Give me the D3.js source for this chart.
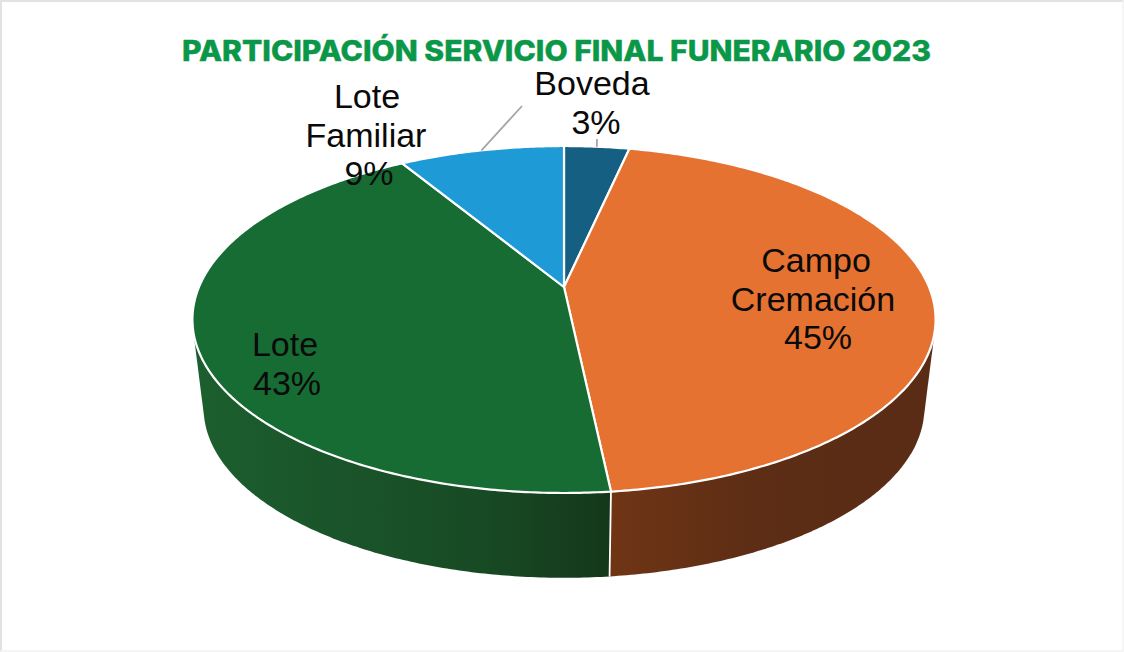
<!DOCTYPE html>
<html><head><meta charset="utf-8">
<script src="https://cdnjs.cloudflare.com/ajax/libs/d3/7.8.5/d3.min.js"></script>
<style>html,body{margin:0;padding:0;background:#fff}svg{display:block}</style>
</head><body><svg id="c" width="1124" height="652"></svg>
<script>
const titleText = "PARTICIPACIÓN SERVICIO FINAL FUNERARIO 2023";
const categories = ["Boveda", "Campo Cremación", "Lote", "Lote Familiar"];
const values = [3.4, 44.93, 43.07, 8.6];
const percentLabels = ["3%", "45%", "43%", "9%"];
const labelLines = [["Boveda"], ["Campo", "Cremación"], ["Lote"], ["Lote", "Familiar"]];
const topColors = ["#156082", "#E57231", "#176C33", "#1E9BD7"];

const W = 1124, H = 652;
const svg = d3.select("#c");
const defs = svg.append("defs");

// page frame
svg.append("rect").attr("width", W).attr("height", H).attr("fill", "#fff");
svg.append("path").attr("d", `M1,${H}V1H${W}`).attr("fill", "none").attr("stroke", "#e2e2e2").attr("stroke-width", 2);
svg.append("path").attr("d", `M${W-1},0V${H-1}H0`).attr("fill", "none").attr("stroke", "#f2f2f2").attr("stroke-width", 1.5);

// perspective projection of a unit disc
const persp = 0.1873;
const unitX = d3.scaleLinear().domain([-1, 1]);
const unitY = d3.scaleLinear().domain([-1, 1]);
const topPlane = {rx: 365, ry: 167.4, cx: 564, cy: 287};
const botPlane = {rx: 354, ry: 164, cx: 564, cy: 376};
function project(plane, a) {
  const u = Math.sin(a), v = -Math.cos(a), w = 1 - persp * v;
  unitX.range([plane.cx - plane.rx, plane.cx + plane.rx]);
  unitY.range([plane.cy - plane.ry, plane.cy + plane.ry]);
  return [unitX(u / w), unitY(v / w)];
}
function arcPoints(plane, a0, a1) {
  const n = Math.max(2, Math.ceil(Math.abs(a1 - a0) / 0.01));
  return d3.range(n + 1).map(i => project(plane, a0 + (a1 - a0) * i / n));
}
const line = d3.line();
const arcs = d3.pie().sort(null).value(d => d)(values);

// side wall gradients
const sideStops = {
  1: [[0, "#6f3515"], [0.45, "#5d2d15"], [1, "#5a2c15"]],
  2: [[0, "#1c5f2e"], [0.35, "#1a542a"], [0.7, "#184a24"], [1, "#15371b"]]
};
arcs.forEach((d, i) => {
  if (!sideStops[i]) return;
  const pts = arcPoints(topPlane, d.startAngle, d.endAngle);
  const front = project(topPlane, i === 1 ? d.endAngle : d.startAngle)[0];
  const xExt = i === 1 ? 935 : 192;
  const g = defs.append("linearGradient").attr("id", "side" + i)
    .attr("gradientUnits", "userSpaceOnUse")
    .attr("x1", i === 1 ? front : xExt).attr("x2", i === 1 ? xExt : front)
    .attr("y1", 0).attr("y2", 0);
  sideStops[i].forEach(s => g.append("stop").attr("offset", s[0]).attr("stop-color", s[1]));
  const hull = d3.polygonHull(pts.concat(arcPoints(botPlane, d.startAngle, d.endAngle)));
  svg.append("path").attr("d", line(hull) + "Z").attr("fill", `url(#side${i})`);
});

// seam between the two front walls
const seamA = arcs[1].endAngle;
svg.append("line")
  .attr("x1", project(topPlane, seamA)[0]).attr("y1", project(topPlane, seamA)[1])
  .attr("x2", project(botPlane, seamA)[0]).attr("y2", project(botPlane, seamA)[1])
  .attr("stroke", "#fff").attr("stroke-width", 1.8);

// top faces
arcs.forEach((d, i) => {
  const pts = [[topPlane.cx, topPlane.cy]].concat(arcPoints(topPlane, d.startAngle, d.endAngle));
  svg.append("path").attr("d", line(pts) + "Z").attr("fill", topColors[i])
    .attr("stroke", "#fff").attr("stroke-width", 2.2).attr("stroke-linejoin", "round");
});

// leader lines
const leaderEnds = {0: [597, 139], 3: [522, 106]};
arcs.forEach((d, i) => {
  if (!leaderEnds[i]) return;
  const p = project(topPlane, (d.startAngle + d.endAngle) / 2);
  svg.append("line").attr("x1", p[0]).attr("y1", p[1])
    .attr("x2", leaderEnds[i][0]).attr("y2", leaderEnds[i][1])
    .attr("stroke", "#a6a6a6").attr("stroke-width", 1.8);
});

// title
svg.append("text").text(titleText)
  .attr("x", 182).attr("y", 61)
  .attr("textLength", 749).attr("lengthAdjust", "spacingAndGlyphs")
  .attr("font-family", "Inter,'Open Sans',sans-serif").attr("font-weight", 800)
  .attr("font-size", 28).attr("fill", "#0B9748")
  .attr("stroke", "#0B9748").attr("stroke-width", 0.4);

// data labels
const labelAnchors = [[592, 95], [813, 272], [285, 356], [366, 108]];
const lineShifts = [[0, 4], [3, 0, 5], [0, 2], [1, 0, 3]];
const lineStep = 38.7;
arcs.forEach((d, i) => {
  const lines = labelLines[i].concat(percentLabels[i]);
  const t = svg.append("text").attr("text-anchor", "middle")
    .attr("font-family", "'Liberation Sans',Arial,sans-serif")
    .attr("font-size", 34).attr("fill", "#0a0a0a");
  lines.forEach((s, k) => t.append("tspan")
    .attr("x", labelAnchors[i][0] + lineShifts[i][k])
    .attr("y", labelAnchors[i][1] + k * lineStep).text(s));
});
</script></body></html>
